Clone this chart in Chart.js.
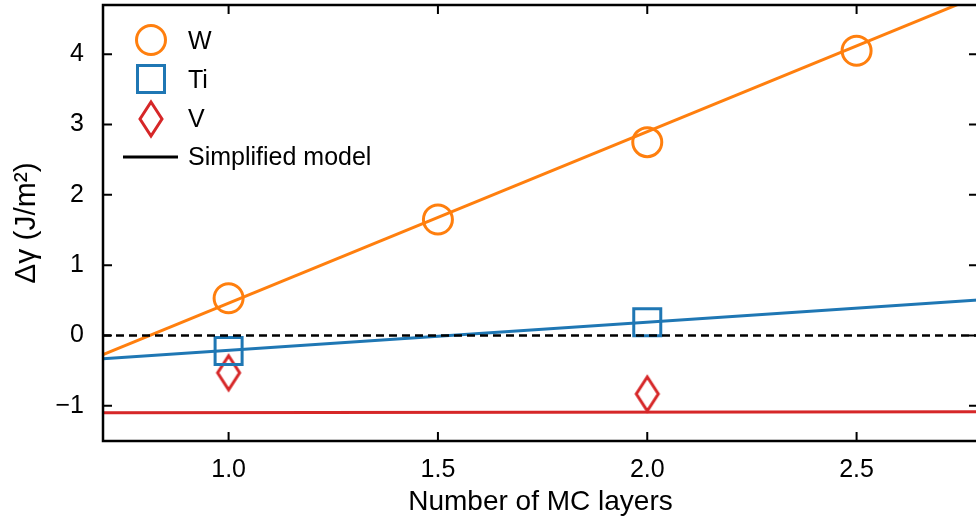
<!DOCTYPE html>
<html><head><meta charset="utf-8">
<script src="https://cdn.jsdelivr.net/npm/chart.js@4"></script>
<style>html,body{margin:0;padding:0;overflow:hidden;background:#fff}#wrap{width:978px;height:522px;position:relative}</style>
</head><body><div id="wrap"><canvas id="c" width="978" height="522"></canvas></div>
<script>
// ---- data ----
const layers = [1.0, 1.5, 2.0, 2.5];
const wValues = [0.53, 1.65, 2.75, 4.05];
const tiLayers = [1.0, 2.0];
const tiValues = [-0.22, 0.19];
const vLayers = [1.0, 2.0];
const vValues = [-0.53, -0.83];
const modelX = [0.7, 2.8];
const wModel = [-0.27, 4.85];
const tiModel = [-0.33, 0.51];
const vModel = [-1.10, -1.085];
const zeroLine = [0, 0];
const xTicks = [1.0, 1.5, 2.0, 2.5];
const xTickLabels = ['1.0', '1.5', '2.0', '2.5'];
const yTicks = [-1, 0, 1, 2, 3, 4];
const yTickLabels = ['\u22121', '0', '1', '2', '3', '4'];
const seriesNames = ['W', 'Ti', 'V', 'Simplified model'];

const ORANGE = '#ff7f0e', BLUE = '#1f77b4', RED = '#d62728';
const FONT = "'Liberation Sans', Arial, Helvetica, sans-serif";
Chart.defaults.font.family = FONT;
Chart.defaults.color = '#000';

function diamondCanvas() {
  const c = document.createElement('canvas');
  c.width = 30; c.height = 44;
  const g = c.getContext('2d');
  g.strokeStyle = RED; g.lineWidth = 3; g.lineJoin = 'miter';
  g.beginPath();
  g.moveTo(15, 5); g.lineTo(26, 22); g.lineTo(15, 39); g.lineTo(4, 22); g.closePath();
  g.stroke();
  return c;
}
const diamond = diamondCanvas();

const pts = (xs, ys) => xs.map((v, i) => ({x: v, y: ys[i]}));

const framePlugin = {
  id: 'frame',
  afterDatasetsDraw(chart) {
    const {ctx, chartArea: a, scales: {x, y}} = chart;
    ctx.save();
    ctx.strokeStyle = '#000';
    ctx.lineWidth = 2.5;
    ctx.strokeRect(a.left, a.top, a.right - a.left, a.bottom - a.top);
    ctx.lineWidth = 2;
    ctx.beginPath();
    xTicks.forEach(v => {
      const px = x.getPixelForValue(v);
      ctx.moveTo(px, a.bottom); ctx.lineTo(px, a.bottom - 9);
      ctx.moveTo(px, a.top); ctx.lineTo(px, a.top + 9);
    });
    yTicks.forEach(v => {
      const py = y.getPixelForValue(v);
      ctx.moveTo(a.left, py); ctx.lineTo(a.left + 9, py);
      ctx.moveTo(a.right, py); ctx.lineTo(a.right - 9, py);
    });
    ctx.stroke();

    // legend
    const mx = a.left + 48, tx = a.left + 85;
    const rows = [a.top + 36, a.top + 75, a.top + 114, a.top + 152];
    ctx.lineWidth = 3;
    ctx.strokeStyle = ORANGE;
    ctx.beginPath(); ctx.arc(mx, rows[0] - 1, 14.5, 0, Math.PI * 2); ctx.stroke();
    ctx.strokeStyle = BLUE;
    ctx.strokeRect(mx - 13.5, rows[1] - 13.5 - 1, 27, 27);
    ctx.drawImage(diamond, mx - 15, rows[2] - 22);
    ctx.strokeStyle = '#000';
    ctx.beginPath(); ctx.moveTo(a.left + 20, rows[3]); ctx.lineTo(a.left + 75, rows[3]); ctx.stroke();
    ctx.fillStyle = '#000';
    ctx.font = '25px ' + FONT;
    ctx.textBaseline = 'middle';
    ctx.textAlign = 'left';
    seriesNames.forEach((n, i) => ctx.fillText(n, tx, rows[i] + 1));
    ctx.restore();
  }
};

new Chart(document.getElementById('c'), {
  type: 'scatter',
  data: {
    datasets: [
      {label: 'zero', data: pts(modelX, zeroLine), showLine: true, borderColor: '#000', borderWidth: 2.5, borderDash: [8, 5], pointRadius: 0},
      {label: 'W model', data: pts(modelX, wModel), showLine: true, borderColor: ORANGE, borderWidth: 3, pointRadius: 0},
      {label: 'Ti model', data: pts(modelX, tiModel), showLine: true, borderColor: BLUE, borderWidth: 3, pointRadius: 0},
      {label: 'V model', data: pts(modelX, vModel), showLine: true, borderColor: RED, borderWidth: 3, pointRadius: 0},
      {label: 'W', data: pts(layers, wValues), pointStyle: 'circle', pointRadius: 14.5, borderWidth: 3, borderColor: ORANGE, backgroundColor: 'rgba(0,0,0,0)'},
      {label: 'Ti', data: pts(tiLayers, tiValues), pointStyle: 'rect', pointRadius: 19.1, borderWidth: 3, borderColor: BLUE, backgroundColor: 'rgba(0,0,0,0)'},
      {label: 'V', data: pts(vLayers, vValues), pointStyle: diamond, pointRadius: 18, borderWidth: 3, borderColor: RED, backgroundColor: 'rgba(0,0,0,0)'}
    ]
  },
  options: {
    responsive: false,
    animation: false,
    layout: {autoPadding: false, padding: {top: 5, right: 0, left: 0, bottom: 0}},
    plugins: {legend: {display: false}, tooltip: {enabled: false}},
    scales: {
      x: {
        type: 'linear', min: 0.7, max: 2.79,
        grid: {display: false}, border: {display: false},
        afterBuildTicks: s => { s.ticks = xTicks.map(v => ({value: v})); },
        afterFit: s => { s.height = 81; s.paddingLeft = 0; s.paddingRight = 0; },
        ticks: {padding: 6, font: {size: 25}, color: '#000', maxRotation: 0,
          callback: (v) => { const i = xTicks.indexOf(v); return i >= 0 ? xTickLabels[i] : ''; }},
        title: {display: true, text: 'Number of MC layers', font: {size: 28}, color: '#000', padding: {top: 0, bottom: 3}}
      },
      y: {
        type: 'linear', min: -1.5, max: 4.7,
        grid: {display: false}, border: {display: false},
        afterBuildTicks: s => { s.ticks = yTicks.map(v => ({value: v})); },
        afterFit: s => { s.width = 103; s.paddingTop = 0; s.paddingBottom = 0; },
        ticks: {padding: 11, font: {size: 25}, color: '#000',
          callback: (v) => { const i = yTicks.indexOf(v); return i >= 0 ? yTickLabels[i] : ''; }},
        title: {display: true, text: '\u0394\u03b3 (J/m\u00b2)', font: {size: 30}, color: '#000', padding: {top: 9, bottom: 0}}
      }
    }
  },
  plugins: [framePlugin]
});
</script>
</body></html>
